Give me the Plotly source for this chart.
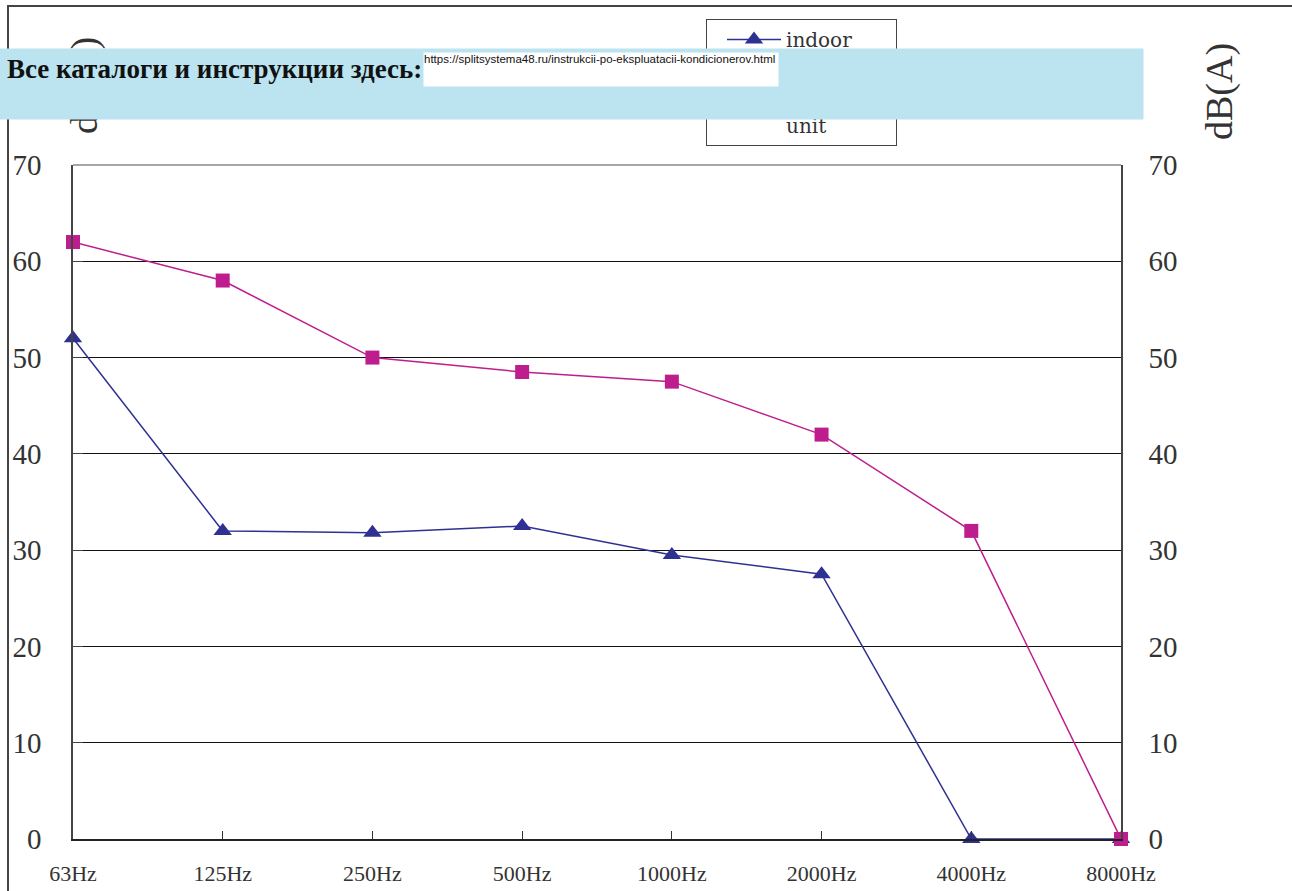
import plotly.graph_objects as go

categories = ["63Hz", "125Hz", "250Hz", "500Hz", "1000Hz", "2000Hz", "4000Hz", "8000Hz"]
indoor = [52, 32, 31.8, 32.5, 29.5, 27.5, 0, 0]
outdoor = [62, 58, 50, 48.5, 47.5, 42, 32, 0]
y_ticks = [0, 10, 20, 30, 40, 50, 60, 70]
indoor_name = "indoor<br>unit"
outdoor_name = "outdoor&nbsp;&nbsp;&nbsp;&nbsp;<br>unit"
banner_text = "Все каталоги и инструкции здесь:"
url_text = "https://splitsystema48.ru/instrukcii-po-ekspluatacii-kondicionerov.html"
axis_title = "dB(A)"

W, H = 1292, 891
L, R, T, B = 73, 1121, 165, 839


def px(x):
    return (x - L) / (R - L)


def py(y):
    return (B - y) / (B - T)


NAVY = "#2E3192"
MAGENTA = "#BE1E8D"
SERIF = "Liberation Serif, Times New Roman, serif"

fig = go.Figure()
fig.add_trace(go.Scatter(
    x=categories, y=indoor, name=indoor_name, mode="lines+markers",
    legendgroup="indoor",
    line=dict(color=NAVY, width=1.5),
    marker=dict(symbol="triangle-up", size=16, color=NAVY),
    cliponaxis=False,
))
fig.add_trace(go.Scatter(
    x=categories, y=outdoor, name=outdoor_name, mode="lines+markers",
    legendgroup="outdoor",
    line=dict(color=MAGENTA, width=1.5),
    marker=dict(symbol="square", size=14, color=MAGENTA),
    cliponaxis=False,
))
# invisible trace to drive the right-hand axis
fig.add_trace(go.Scatter(x=categories, y=outdoor, yaxis="y2", mode="lines",
                         line=dict(width=0), showlegend=False, hoverinfo="skip",
                         opacity=0))

fig.update_layout(
    width=W, height=H,
    margin=dict(l=L, r=W - R, t=T, b=H - B, pad=0, autoexpand=False),
    plot_bgcolor="white", paper_bgcolor="white",
    xaxis=dict(
        type="category", range=[0, len(categories) - 1],
        showgrid=False, zeroline=False, automargin=False,
        showline=True, linecolor="#222", linewidth=1.5, mirror=False,
        ticks="inside", ticklen=8, tickcolor="#333",
        tickfont=dict(family=SERIF, size=22, color="#333"),
        ticklabelstandoff=14,
    ),
    yaxis=dict(
        range=[0, 70], tickvals=y_ticks, automargin=False,
        showgrid=True, gridcolor="#111", gridwidth=1,
        zeroline=False,
        showline=True, linecolor="#444", linewidth=1.5,
        ticks="inside", ticklen=10, tickcolor="#444",
        tickfont=dict(family=SERIF, size=29, color="#333"),
        ticklabelstandoff=24,
    ),
    yaxis2=dict(
        range=[0, 70], tickvals=y_ticks, overlaying="y", side="right",
        showgrid=False, zeroline=False, automargin=False,
        showline=True, linecolor="#444", linewidth=1.5,
        ticks="", tickfont=dict(family=SERIF, size=29, color="#333"),
        ticklabelstandoff=20,
    ),
    showlegend=True,
    legend=dict(
        x=px(706), y=py(19), xanchor="left", yanchor="top",
        bordercolor="#444", borderwidth=1, bgcolor="white",
        font=dict(family="DejaVu Serif, serif", size=20, color="#333"),
        itemwidth=54, indentation=15, tracegroupgap=5, valign="top",
    ),
    shapes=[
        # top line of the plot frame (gray)
        dict(type="line", xref="paper", yref="paper", x0=0, x1=1, y0=1, y1=1,
             line=dict(color="#888", width=1.5)),
        # outer frame of the picture
        dict(type="rect", xref="paper", yref="paper",
             x0=px(8), x1=px(1310), y0=py(6), y1=py(910),
             line=dict(color="#444", width=2), layer="below"),
    ],
    annotations=[
        dict(text=axis_title, xref="paper", yref="paper", x=px(84), y=py(86),
             showarrow=False, textangle=-90, xanchor="center", yanchor="middle",
             font=dict(family=SERIF, size=38, color="#333")),
        dict(text=axis_title, xref="paper", yref="paper", x=px(1220), y=py(92),
             showarrow=False, textangle=-90, xanchor="center", yanchor="middle",
             font=dict(family=SERIF, size=38, color="#333")),
        # banner background
        dict(text="&nbsp;", xref="paper", yref="paper",
             x=px(-1), y=py(48), xanchor="left", yanchor="top",
             width=1143, height=70, align="left", valign="top",
             bgcolor="#BBE4F0", borderpad=0, showarrow=False,
             font=dict(family=SERIF, size=10, color="#111")),
        dict(text="<b>" + banner_text + "</b>", xref="paper", yref="paper",
             x=px(6), y=py(53), xanchor="left", yanchor="top",
             align="left", borderpad=0, showarrow=False,
             font=dict(family=SERIF, size=27, color="#111")),
        dict(text=url_text, xref="paper", yref="paper",
             x=px(423), y=py(52), xanchor="left", yanchor="top",
             width=354, height=33, align="left", valign="top",
             bgcolor="white", borderpad=0, showarrow=False,
             font=dict(family="Liberation Sans, Arial, sans-serif", size=11.5, color="#111")),
    ],
)

fig.write_html("out.html", config={"displayModeBar": False},
               post_script="document.body.style.margin='0';")
